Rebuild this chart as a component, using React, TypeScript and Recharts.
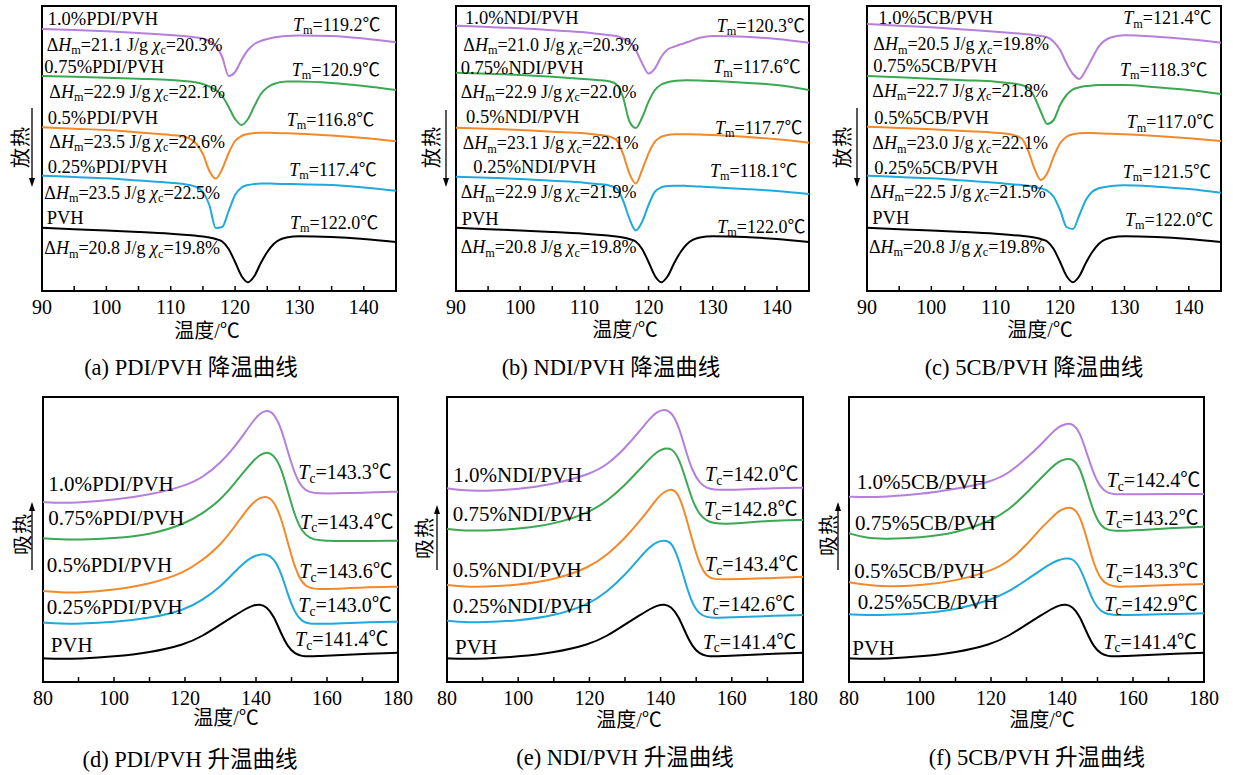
import React from "react";
import { LineChart, Line, XAxis, YAxis, ReferenceArea } from "recharts";

// temperature grids (°C)
const COOL_T = [90, 95, 100, 105, 110, 112, 114, 115, 116, 117, 118, 119, 120, 121, 122, 123, 124, 125, 126, 128, 130, 135, 140, 145];
const HEAT_T = [80, 85, 90, 100, 110, 120, 125, 130, 134, 137, 139, 141, 143, 145, 147, 149, 151, 153, 155, 158, 162, 170, 180];

// heat flow, offset curves (a.u.)
const PVH_COOL = [63.2, 61.8, 60.5, 59, 57.2, 56.3, 55.2, 54.5, 53.5, 52, 49.5, 42, 29, 15, 8.8, 15, 28, 39, 47, 53.5, 54.8, 54, 52, 49];
const PDI_COOL_10 = [262, 261, 259.7, 258, 256, 255, 253.5, 252.5, 250, 245, 234, 215, 219, 231, 241, 247, 250, 252, 253.5, 255, 255.5, 255, 252.5, 248.7];
const PDI_COOL_075 = [215, 214.3, 213.3, 212.2, 211, 210, 208.5, 207, 204.5, 201, 195, 184, 172, 166, 172, 185, 197, 203.5, 207, 209.5, 209.5, 208, 205, 201];
const PDI_COOL_05 = [163.7, 162.3, 161, 158.5, 156, 154.5, 147, 137, 120, 112.5, 122, 138, 150, 155, 157, 158, 158.3, 158.3, 158, 157.7, 157.3, 155.5, 153, 149.7];
const PDI_COOL_025 = [115.3, 114, 112.7, 110.5, 108.3, 107, 104, 99, 86, 63, 64, 80, 96, 103.5, 106, 107, 107.5, 107.5, 107.3, 107, 106.7, 106, 103.5, 100.3];
const NDI_COOL_10 = [265.3, 264, 262.7, 260.7, 258.7, 257.3, 255.8, 255, 252.5, 249.3, 241, 227.7, 217.5, 222.7, 234.3, 241.7, 244.3, 246.7, 248.7, 253.3, 255, 254.3, 252, 248.3];
const NDI_COOL_075 = [218.3, 217.2, 216, 214.3, 212, 211, 209.5, 206.5, 194.3, 170, 163, 173.5, 189.3, 201, 206.5, 208.8, 210, 210.5, 210.7, 210.5, 210, 208.3, 206, 201];
const NDI_COOL_05 = [163.3, 162.2, 161, 159.3, 157.7, 156.3, 154.3, 151, 137.7, 117.7, 107.5, 121, 137.7, 149.3, 154.3, 156, 156.7, 156.8, 156.7, 156.4, 156, 154.3, 151.7, 148.3];
const NDI_COOL_025 = [114.3, 113.2, 112, 110.2, 108.3, 107, 105.3, 102.7, 91, 72.7, 60.5, 69.3, 86, 99.3, 103.7, 105, 105.3, 105.3, 105, 104.5, 103.7, 102, 100, 97];
const CB_COOL_10 = [267, 265.3, 263.7, 261.5, 259.3, 258.3, 257.2, 256.7, 255.7, 255, 253.7, 249.3, 241, 227.7, 217, 212, 221, 233, 244.3, 253.7, 255.7, 254.3, 251.7, 248.3];
const CB_COOL_075 = [215, 213.7, 212.3, 210.8, 209.3, 208, 206, 203.7, 194.3, 179.3, 167, 171, 186, 196, 201.7, 203.7, 205, 205.5, 206, 206, 206, 203.7, 201, 197];
const CB_COOL_05 = [164.3, 163, 161.7, 160, 158.3, 157, 152.7, 141, 122.7, 111, 117.7, 134.3, 147.7, 154.3, 156.7, 157.7, 158, 158, 157.7, 157.2, 156.7, 155, 152.7, 150];
const CB_COOL_025 = [115.3, 114, 112.7, 110.5, 108.3, 107, 106, 105.3, 104, 102.7, 100.3, 94.3, 81, 64, 62, 76, 91, 99.3, 102.7, 105, 105.7, 104.3, 102, 98.3];

const PVH_HEAT = [23.7, 23, 23.3, 25.3, 29.3, 37.5, 46, 57.5, 66.5, 73, 76.5, 78, 75.5, 66, 49, 35, 28, 25.8, 25.5, 26, 26.5, 28, 29.3];
const PDI_HEAT_10 = [180, 179, 179.5, 182, 187, 196, 204.5, 219, 235, 250, 260, 268.5, 272, 269, 255, 230, 207, 194, 189.5, 188.5, 188.5, 189.3, 190.3];
const PDI_HEAT_075 = [143.7, 142.7, 142.3, 143.7, 147, 158, 168.7, 182, 198.7, 212, 220.3, 227, 230.5, 227, 215.3, 190.3, 165.3, 150.3, 143.7, 141.3, 141, 141, 141.3];
const PDI_HEAT_05 = [91, 89.7, 89.3, 92, 97.7, 109.5, 122, 137, 155.3, 170.3, 178.7, 184.3, 186, 181, 165.3, 138.7, 113.7, 98.7, 93.7, 92.7, 93, 94.7, 95.3];
const PDI_HEAT_025 = [59.3, 58.3, 58.3, 59.7, 63.7, 72, 82, 95.3, 110.3, 120.3, 125.3, 127.7, 128, 123.7, 110.3, 87, 68.7, 60.3, 58.3, 58, 58.5, 59.7, 60.3];
const NDI_HEAT_10 = [193.7, 191.3, 191, 192.7, 197.7, 207.5, 217, 233.7, 250.3, 263.7, 270.3, 273, 270.3, 257, 232, 210.3, 198.7, 193.7, 192.3, 192, 192.5, 193.7, 194.3];
const NDI_HEAT_075 = [153, 151.3, 151.3, 153, 157.7, 169.5, 181, 197, 212, 223.7, 230.3, 233.7, 234, 225.3, 203.7, 180.3, 167, 161, 158.7, 158, 158.5, 161.3, 162];
const NDI_HEAT_05 = [97, 95.3, 95, 97, 102, 114.5, 127, 143.7, 160.3, 173.7, 183.7, 190.3, 193.5, 189, 167, 140.3, 117, 105.3, 102.7, 102.7, 103, 103.7, 105.3];
const NDI_HEAT_025 = [61.3, 59.7, 59.7, 61.3, 66, 77.8, 90.3, 107, 123.7, 135.3, 140.3, 141.5, 140.5, 124, 98.7, 77, 67.7, 64.7, 64.3, 64.3, 65, 66, 67];
const CB_HEAT_10 = [185.3, 184.7, 185.3, 187.7, 193, 200, 208.7, 223.7, 237, 248.7, 255.3, 258.3, 258.5, 250.3, 228.7, 207, 193.7, 188.7, 187.7, 187.7, 187.8, 188, 188];
const CB_HEAT_075 = [148.7, 143.7, 143, 144.3, 148.7, 161, 172, 188.7, 203.7, 214.3, 220.3, 223.3, 223.3, 215.3, 192, 168.7, 155.3, 152, 151, 151.3, 151.7, 153.7, 155.3];
const CB_HEAT_05 = [99.7, 97, 95.3, 96.3, 101, 111, 120.3, 137, 153.7, 163.7, 171, 174.3, 174.8, 167, 143.7, 117, 102, 97, 95.3, 95.3, 95.8, 97, 98];
const CB_HEAT_025 = [67.7, 67, 67, 68.3, 72, 82, 90.3, 102, 112, 118.7, 122, 123.8, 123.6, 115.3, 97, 78.7, 70.3, 67.7, 67, 67, 67.3, 68, 68.7];

// tick values
const COOL_TICKS = [90, 95, 100, 105, 110, 115, 120, 125, 130, 135, 140, 145];
const HEAT_TICKS = [80, 90, 100, 110, 120, 130, 140, 150, 160, 170, 180];

// labels
const PDI_NAMES = ["1.0%PDI/PVH", "0.75%PDI/PVH", "0.5%PDI/PVH", "0.25%PDI/PVH", "PVH"];
const NDI_NAMES = ["1.0%NDI/PVH", "0.75%NDI/PVH", "0.5%NDI/PVH", "0.25%NDI/PVH", "PVH"];
const CB_NAMES = ["1.0%5CB/PVH", "0.75%5CB/PVH", "0.5%5CB/PVH", "0.25%5CB/PVH", "PVH"];
const PDI_TM = ["119.2", "120.9", "116.8", "117.4", "122.0"];
const PDI_DH = ["21.1", "22.9", "23.5", "23.5", "20.8"];
const PDI_XC = ["20.3", "22.1", "22.6", "22.5", "19.8"];
const PDI_TC = ["143.3", "143.4", "143.6", "143.0", "141.4"];
const NDI_TM = ["120.3", "117.6", "117.7", "118.1", "122.0"];
const NDI_DH = ["21.0", "22.9", "23.1", "22.9", "20.8"];
const NDI_XC = ["20.3", "22.0", "22.1", "21.9", "19.8"];
const NDI_TC = ["142.0", "142.8", "143.4", "142.6", "141.4"];
const CB_TM = ["121.4", "118.3", "117.0", "121.5", "122.0"];
const CB_DH = ["20.5", "22.7", "23.0", "22.5", "20.8"];
const CB_XC = ["19.8", "21.8", "22.1", "21.5", "19.8"];
const CB_TC = ["142.4", "143.2", "143.3", "142.9", "141.4"];

const SERIF = "'Liberation Serif', 'Times New Roman', 'Noto Sans CJK SC', serif";
const COLORS = ["#b67fdb", "#3da852", "#f4892a", "#1fa9dd", "#000000"];
const Y_MAX = 285;
const M = { top: 10, right: 20, bottom: 0, left: 20 };
const AXIS_H = 34;

type Pos = [number, number];
interface Note { x: number; y: number; size: number; node: React.ReactNode }

const Sub = ({ children }: { children: React.ReactNode }) => (
  <span style={{ fontSize: "0.68em", position: "relative", top: "0.28em" }}>{children}</span>
);

const Temp = ({ sub, v }: { sub: string; v: string }) => (
  <>
    <i>T</i>
    <Sub>{sub}</Sub>={v}℃
  </>
);

const Enth = ({ dh, xc }: { dh: string; xc: string }) => (
  <>
    Δ<i>H</i>
    <Sub>m</Sub>={dh} J/g <i>χ</i>
    <Sub>c</Sub>={xc}%
  </>
);

const buildRows = (t: number[], series: number[][]) =>
  t.map((x, i) => {
    const r: Record<string, number> = { t: x };
    series.forEach((s, k) => {
      r["s" + k] = s[i];
    });
    return r;
  });

const coolNotes = (names: string[], tm: string[], dh: string[], xc: string[], pn: Pos[], pd: Pos[], pt: Pos[]): Note[] =>
  names.flatMap((n, i) => [
    { x: pn[i][0], y: pn[i][1], size: 18.5, node: n },
    { x: pd[i][0], y: pd[i][1], size: 18, node: <Enth dh={dh[i]} xc={xc[i]} /> },
    { x: pt[i][0], y: pt[i][1], size: 18, node: <Temp sub="m" v={tm[i]} /> },
  ]);

const heatNotes = (names: string[], tc: string[], pn: Pos[], pt: Pos[]): Note[] =>
  names.flatMap((n, i) => [
    { x: pn[i][0], y: pn[i][1], size: 21, node: n },
    { x: pt[i][0], y: pt[i][1], size: 20, node: <Temp sub="c" v={tc[i]} /> },
  ]);

interface PanelProps {
  plot: { x: number; y: number; w: number; h: number };
  t: number[];
  series: number[][];
  curve: "monotone" | "basis";
  domain: [number, number];
  ticks: number[];
  major: number;
  notes: Note[];
  yLabel: string;
  yLabelAt: Pos;
  arrow: { x: number; y1: number; y2: number; up: boolean };
  titleAt: Pos;
  caption: string;
  captionAt: Pos;
}

const Panel = (p: PanelProps) => {
  const rows = buildRows(p.t, p.series);
  const renderTick = (props: any) => {
    const v = props.payload.value;
    return (
      <g>
        <line x1={props.x} x2={props.x} y1={props.y} y2={props.y - 5} stroke="#000" strokeWidth={1.5} />
        {v % p.major === 0 && (
          <text x={props.x} y={props.y + 16} textAnchor="middle" dominantBaseline="central" fontSize={20} fontFamily={SERIF} fill="#000">
            {v}
          </text>
        )}
      </g>
    );
  };
  const ah = p.arrow.y2 - p.arrow.y1;
  return (
    <>
      <div style={{ position: "absolute", left: p.plot.x - M.left, top: p.plot.y - M.top }}>
        <LineChart width={p.plot.w + M.left + M.right} height={p.plot.h + M.top + AXIS_H} data={rows} margin={M}>
          <XAxis
            type="number"
            dataKey="t"
            domain={p.domain}
            ticks={p.ticks}
            interval={0}
            allowDataOverflow
            axisLine={false}
            tickLine={false}
            tickSize={0}
            tickMargin={0}
            height={AXIS_H}
            tick={renderTick}
          />
          <YAxis hide domain={[0, Y_MAX]} allowDataOverflow />
          {p.series.map((_, k) => (
            <Line
              key={k}
              type={p.curve}
              dataKey={"s" + k}
              stroke={COLORS[k]}
              strokeWidth={2}
              dot={false}
              isAnimationActive={false}
            />
          ))}
          <ReferenceArea x1={p.domain[0]} x2={p.domain[1]} y1={0} y2={Y_MAX} fill="none" stroke="#000" strokeWidth={2} />
        </LineChart>
      </div>
      {p.notes.map((n, i) => (
        <div
          key={i}
          style={{ position: "absolute", left: n.x, top: n.y - 12, lineHeight: "24px", fontSize: n.size, whiteSpace: "nowrap" }}
        >
          {n.node}
        </div>
      ))}
      <div
        style={{
          position: "absolute",
          left: p.yLabelAt[0],
          top: p.yLabelAt[1],
          transform: "translate(-50%, -50%) rotate(-90deg)",
          fontSize: 20,
          whiteSpace: "nowrap",
          letterSpacing: 1,
        }}
      >
        {p.yLabel}
      </div>
      <svg style={{ position: "absolute", left: p.arrow.x - 5, top: p.arrow.y1 }} width={10} height={ah}>
        <line x1={5} x2={5} y1={p.arrow.up ? 6 : 0} y2={p.arrow.up ? ah : ah - 6} stroke="#000" strokeWidth={1.3} />
        {p.arrow.up ? (
          <polygon points={`2,9 8,9 5,0`} fill="#000" />
        ) : (
          <polygon points={`2,${ah - 9} 8,${ah - 9} 5,${ah}`} fill="#000" />
        )}
      </svg>
      <div style={{ position: "absolute", left: p.titleAt[0] - 100, width: 200, top: p.titleAt[1] - 13, lineHeight: "26px", textAlign: "center", fontSize: 20 }}>
        温度/℃
      </div>
      <div style={{ position: "absolute", left: p.captionAt[0] - 200, width: 400, top: p.captionAt[1] - 14, lineHeight: "28px", textAlign: "center", fontSize: 22.5 }}>
        {p.caption}
      </div>
    </>
  );
};

export default function App() {
  return (
    <div style={{ position: "absolute", left: 0, top: 0, width: 1233, height: 775, background: "#fff", fontFamily: SERIF, color: "#000" }}>
      <Panel
        plot={{ x: 42, y: 6, w: 354, h: 285 }}
        t={COOL_T}
        series={[PDI_COOL_10, PDI_COOL_075, PDI_COOL_05, PDI_COOL_025, PVH_COOL]}
        curve="monotone"
        domain={[90, 145]}
        ticks={COOL_TICKS}
        major={10}
        notes={coolNotes(
          PDI_NAMES, PDI_TM, PDI_DH, PDI_XC,
          [[47.7, 19.3], [44.3, 66.7], [47.7, 118.3], [47.7, 166.7], [46.7, 218.3]],
          [[46.7, 45], [49.3, 91.7], [49.3, 141.7], [44.3, 192.7], [44.3, 248.3]],
          [[293, 25], [291.7, 70], [286.7, 120], [289.3, 170], [290, 222.7]]
        )}
        yLabel="放热"
        yLabelAt={[19, 147]}
        arrow={{ x: 32, y1: 108, y2: 187, up: false }}
        titleAt={[207, 331]}
        caption="(a) PDI/PVH 降温曲线"
        captionAt={[191, 368]}
      />
      <Panel
        plot={{ x: 456, y: 6, w: 353, h: 285 }}
        t={COOL_T}
        series={[NDI_COOL_10, NDI_COOL_075, NDI_COOL_05, NDI_COOL_025, PVH_COOL]}
        curve="monotone"
        domain={[90, 145]}
        ticks={COOL_TICKS}
        major={10}
        notes={coolNotes(
          NDI_NAMES, NDI_TM, NDI_DH, NDI_XC,
          [[465, 18.3], [460.7, 67.7], [466, 117.3], [473.3, 166.7], [461.7, 219]],
          [[463.3, 45], [460.7, 91.7], [462.7, 143.3], [460.7, 192.3], [460.7, 247.3]],
          [[716.7, 26], [713.3, 67.3], [715, 127.7], [710, 170.7], [717.3, 226.7]]
        )}
        yLabel="放热"
        yLabelAt={[430, 147]}
        arrow={{ x: 446, y1: 110, y2: 187, up: false }}
        titleAt={[625, 330]}
        caption="(b) NDI/PVH 降温曲线"
        captionAt={[611, 368]}
      />
      <Panel
        plot={{ x: 867, y: 6, w: 354, h: 285 }}
        t={COOL_T}
        series={[CB_COOL_10, CB_COOL_075, CB_COOL_05, CB_COOL_025, PVH_COOL]}
        curve="monotone"
        domain={[90, 145]}
        ticks={COOL_TICKS}
        major={10}
        notes={coolNotes(
          CB_NAMES, CB_TM, CB_DH, CB_XC,
          [[878.3, 18.3], [873.3, 66], [874.3, 118.3], [874.3, 168.3], [872.3, 218.3]],
          [[873.3, 44.3], [872.3, 90.7], [872.3, 143.3], [870, 191.7], [869, 246.7]],
          [[1123.3, 18.3], [1120, 70], [1126.7, 122.3], [1122.7, 171.7], [1125, 220]]
        )}
        yLabel="放热"
        yLabelAt={[841, 147]}
        arrow={{ x: 857, y1: 108, y2: 187, up: false }}
        titleAt={[1040, 330]}
        caption="(c) 5CB/PVH 降温曲线"
        captionAt={[1034, 368]}
      />
      <Panel
        plot={{ x: 43, y: 397, w: 355, h: 285 }}
        t={HEAT_T}
        series={[PDI_HEAT_10, PDI_HEAT_075, PDI_HEAT_05, PDI_HEAT_025, PVH_HEAT]}
        curve="basis"
        domain={[80, 180]}
        ticks={HEAT_TICKS}
        major={20}
        notes={heatNotes(
          PDI_NAMES, PDI_TC,
          [[48.3, 484.3], [48.3, 517.7], [46.7, 565], [46.7, 606.7], [50.7, 645]],
          [[298.3, 472.3], [300, 521.7], [299.3, 571], [298.3, 605], [295, 639.3]]
        )}
        yLabel="吸热"
        yLabelAt={[21, 534]}
        arrow={{ x: 32, y1: 502, y2: 570, up: true }}
        titleAt={[226, 718]}
        caption="(d) PDI/PVH 升温曲线"
        captionAt={[190, 760]}
      />
      <Panel
        plot={{ x: 447, y: 397, w: 356, h: 285 }}
        t={HEAT_T}
        series={[NDI_HEAT_10, NDI_HEAT_075, NDI_HEAT_05, NDI_HEAT_025, PVH_HEAT]}
        curve="basis"
        domain={[80, 180]}
        ticks={HEAT_TICKS}
        major={20}
        notes={heatNotes(
          NDI_NAMES, NDI_TC,
          [[453.3, 475], [452.7, 514.3], [452.7, 570], [452.7, 605.7], [455, 646.7]],
          [[705, 474.3], [704, 509], [705, 564], [701.7, 604.3], [702.7, 641.7]]
        )}
        yLabel="吸热"
        yLabelAt={[423, 538]}
        arrow={{ x: 437, y1: 505, y2: 570, up: true }}
        titleAt={[629, 720]}
        caption="(e) NDI/PVH 升温曲线"
        captionAt={[625, 758]}
      />
      <Panel
        plot={{ x: 849, y: 397, w: 355, h: 285 }}
        t={HEAT_T}
        series={[CB_HEAT_10, CB_HEAT_075, CB_HEAT_05, CB_HEAT_025, PVH_HEAT]}
        curve="basis"
        domain={[80, 180]}
        ticks={HEAT_TICKS}
        major={20}
        notes={heatNotes(
          CB_NAMES, CB_TC,
          [[856.7, 481.7], [855, 523.3], [854.3, 571], [857.7, 601.7], [852.3, 648.3]],
          [[1106.7, 480], [1105, 517.7], [1105, 571], [1104.3, 604.3], [1103.3, 641.7]]
        )}
        yLabel="吸热"
        yLabelAt={[827, 535]}
        arrow={{ x: 838, y1: 502, y2: 570, up: true }}
        titleAt={[1042, 720]}
        caption="(f) 5CB/PVH 升温曲线"
        captionAt={[1037, 758]}
      />
    </div>
  );
}
